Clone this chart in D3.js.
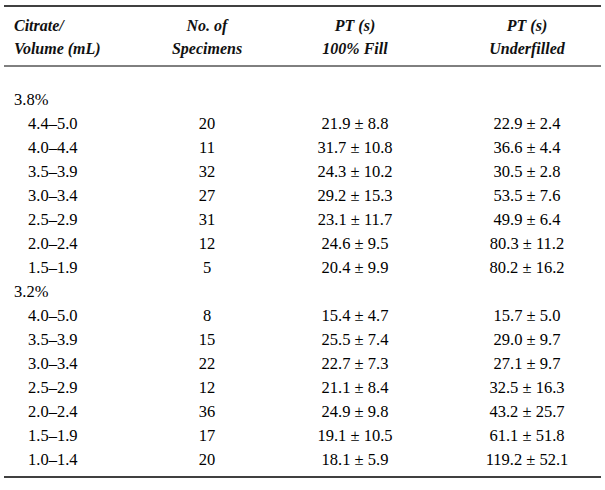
<!DOCTYPE html>
<html><head><meta charset="utf-8">
<script src="https://cdn.jsdelivr.net/npm/d3@7"></script>
<style>body{margin:0;background:#fff}</style>
</head><body><svg width="605" height="490"></svg>
<script>
var groups = ["3.8%", "3.2%"];
var volumes38 = ["4.4\u20135.0","4.0\u20134.4","3.5\u20133.9","3.0\u20133.4","2.5\u20132.9","2.0\u20132.4","1.5\u20131.9"];
var n38 = [20, 11, 32, 27, 31, 12, 5];
var full38 = ["21.9 \u00b1 8.8","31.7 \u00b1 10.8","24.3 \u00b1 10.2","29.2 \u00b1 15.3","23.1 \u00b1 11.7","24.6 \u00b1 9.5","20.4 \u00b1 9.9"];
var under38 = ["22.9 \u00b1 2.4","36.6 \u00b1 4.4","30.5 \u00b1 2.8","53.5 \u00b1 7.6","49.9 \u00b1 6.4","80.3 \u00b1 11.2","80.2 \u00b1 16.2"];
var volumes32 = ["4.0\u20135.0","3.5\u20133.9","3.0\u20133.4","2.5\u20132.9","2.0\u20132.4","1.5\u20131.9","1.0\u20131.4"];
var n32 = [8, 15, 22, 12, 36, 17, 20];
var full32 = ["15.4 \u00b1 4.7","25.5 \u00b1 7.4","22.7 \u00b1 7.3","21.1 \u00b1 8.4","24.9 \u00b1 9.8","19.1 \u00b1 10.5","18.1 \u00b1 5.9"];
var under32 = ["15.7 \u00b1 5.0","29.0 \u00b1 9.7","27.1 \u00b1 9.7","32.5 \u00b1 16.3","43.2 \u00b1 25.7","61.1 \u00b1 51.8","119.2 \u00b1 52.1"];
var headers = [["Citrate/","Volume (mL)"],["No. of","Specimens"],["PT (s)","100% Fill"],["PT (s)","Underfilled"]];

var svg = d3.select("svg");
var font = "'Liberation Serif', serif";
var colX = [14, 207, 355, 527];

var rows = [{group: groups[0]}];
volumes38.forEach(function(v, i) { rows.push({vol: v, n: n38[i], full: full38[i], under: under38[i]}); });
rows.push({group: groups[1]});
volumes32.forEach(function(v, i) { rows.push({vol: v, n: n32[i], full: full32[i], under: under32[i]}); });

var y = d3.scalePoint().domain(d3.range(rows.length)).range([100, 460]);

svg.append("line").attr("x1", 4).attr("x2", 601).attr("y1", 6).attr("y2", 6).attr("stroke", "#000").attr("stroke-width", 1.3);
svg.append("line").attr("x1", 4).attr("x2", 601).attr("y1", 66).attr("y2", 66).attr("stroke", "#000").attr("stroke-width", 1);
svg.append("line").attr("x1", 4).attr("x2", 601).attr("y1", 477).attr("y2", 477).attr("stroke", "#000").attr("stroke-width", 1.3);

headers.forEach(function(h, c) {
  h.forEach(function(t, k) {
    svg.append("text").attr("x", colX[c]).attr("y", 31 + k * 23)
      .attr("text-anchor", c === 0 ? "start" : "middle")
      .attr("font-family", font).attr("font-style", "italic").attr("font-weight", "bold")
      .attr("font-size", 16).attr("fill", "#111")
      .text(t);
  });
});

var g = svg.append("g").attr("font-family", font).attr("font-size", 16.5).attr("fill", "#000");
rows.forEach(function(r, i) {
  var yy = y(i) + 5;
  if (r.group) {
    g.append("text").attr("x", colX[0]).attr("y", yy).text(r.group);
  } else {
    g.append("text").attr("x", colX[0] + 14).attr("y", yy).text(r.vol);
    g.append("text").attr("x", colX[1]).attr("y", yy).attr("text-anchor", "middle").text(r.n);
    g.append("text").attr("x", colX[2]).attr("y", yy).attr("text-anchor", "middle").text(r.full);
    g.append("text").attr("x", colX[3]).attr("y", yy).attr("text-anchor", "middle").text(r.under);
  }
});
</script></body></html>
